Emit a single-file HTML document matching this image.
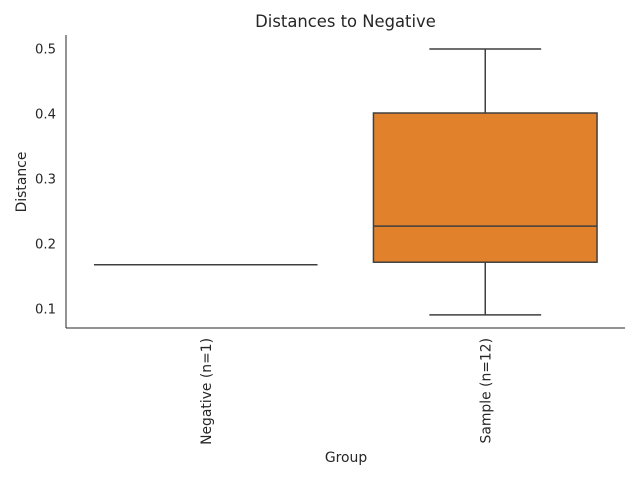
<!DOCTYPE html>
<html><head><meta charset="utf-8"><style>
body{margin:0;background:#fff;font-family:"DejaVu Sans","Liberation Sans",sans-serif;}
svg text{font-family:"DejaVu Sans","Liberation Sans",sans-serif;fill:#262626;}
</style></head><body>
<svg id="chart" width="640" height="480" viewBox="0 0 640 480">
<text x="345.5" y="27" text-anchor="middle" font-size="16.4">Distances to Negative</text>
<g id="plot"></g>
<text x="346" y="462" text-anchor="middle" font-size="13.9">Group</text>
<text transform="translate(26,182) rotate(-90)" text-anchor="middle" font-size="13.9">Distance</text>
</svg>
<script>
const categories=["Negative (n=1)","Sample (n=12)"];
const q1=[0.168,0.172];
const median=[0.168,0.2275];
const q3=[0.168,0.4015];
const whiskLow=[0.168,0.091];
const whiskHigh=[0.168,0.5];
const colors=["#3274a1","#e1812c"];
const yTicks=[0.1,0.2,0.3,0.4,0.5];
const L=66,R=625,T=35,B=328,yMin=0.0708,yMax=0.5215;
const y=v=>B-(v-yMin)/(yMax-yMin)*(B-T);
const band=(R-L)/categories.length;
const xc=i=>L+band*(i+0.5);
const g=document.getElementById('plot');
const NS="http://www.w3.org/2000/svg";
function mk(tag,attrs){const e=document.createElementNS(NS,tag);for(const k in attrs)e.setAttribute(k,attrs[k]);g.appendChild(e);return e;}
const line='#3f3f3f';
let e;
e=mk('line',{x1:L,y1:T,x2:L,y2:B,stroke:'#262626','stroke-width':1});


e=mk('line',{x1:L,y1:B,x2:R,y2:B,stroke:'#262626','stroke-width':1});


yTicks.forEach(t=>{
  e=mk('text',{x:L-10,y:y(t)+4.5,'text-anchor':'end','font-size':13.2});
  e.textContent=t.toFixed(1);
  
  
});
categories.forEach((c,i)=>{
  const cx=xc(i),w=band*0.8;
  e=mk('line',{x1:cx,y1:y(whiskHigh[i]),x2:cx,y2:y(q3[i]),stroke:line,'stroke-width':1.5});
  
  
  e=mk('line',{x1:cx,y1:y(q1[i]),x2:cx,y2:y(whiskLow[i]),stroke:line,'stroke-width':1.5});
  
  
  [whiskHigh[i],whiskLow[i]].forEach(v=>{
    e=mk('line',{x1:cx-w/4,y1:y(v),x2:cx+w/4,y2:y(v),stroke:line,'stroke-width':1.5});
    
    
  });
  e=mk('rect',{x:cx-w/2,y:y(q3[i]),width:w,height:Math.max(0,y(q1[i])-y(q3[i])),fill:colors[i],stroke:line,'stroke-width':1.5});
  
  
  e=mk('line',{x1:cx-w/2,y1:y(median[i]),x2:cx+w/2,y2:y(median[i]),stroke:line,'stroke-width':1.5});
  
  
  e=mk('text',{transform:`translate(${cx+5},${B+10}) rotate(-90)`,'text-anchor':'end','font-size':13.9});
  e.textContent=c;
  
  
});
</script>
</body></html>
